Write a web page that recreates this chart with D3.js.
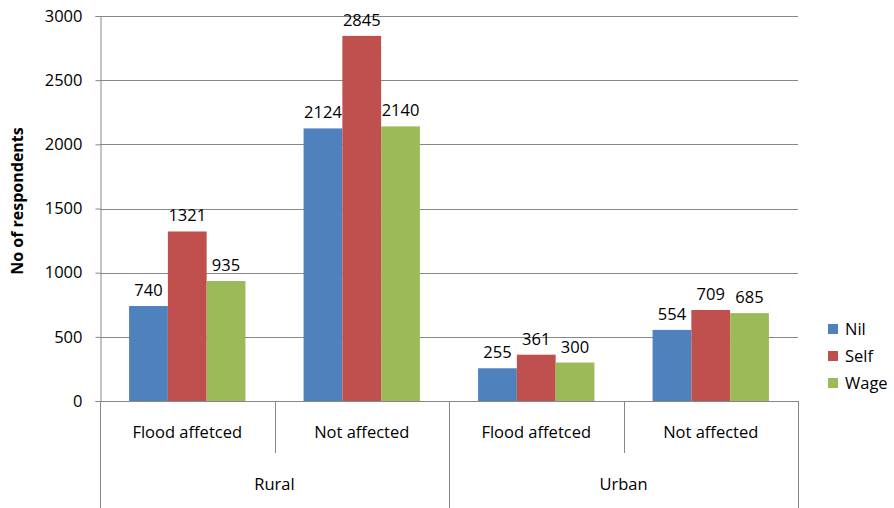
<!DOCTYPE html>
<html><head><meta charset="utf-8">
<script src="https://d3js.org/d3.v7.min.js"></script>
<style>body{margin:0;background:#fff}svg{display:block}text{font-family:"Open Sans",sans-serif;fill:#000}</style>
</head><body><svg id="c" width="894" height="508"></svg>
<script>
const groups = ["Rural","Rural","Urban","Urban"];
const categories = ["Flood affetced","Not affected","Flood affetced","Not affected"];
const series = ["Nil","Self","Wage"];
const nil = [740,2124,255,554];
const self = [1321,2845,361,709];
const wage = [935,2140,300,685];
const yTicks = [0,500,1000,1500,2000,2500,3000];
const colors = ["#4F81BD","#C0504D","#9BBB59"];
const values = [nil,self,wage];
const FS = 16.5;

const svg = d3.select("#c");
const L=100,R=798,T=16,B=401;
const y = d3.scaleLinear().domain([0,3000]).range([B,T]);
const x0 = d3.scaleBand().domain(d3.range(categories.length)).range([L,R]).paddingInner(0).paddingOuter(0);
const bw = x0.bandwidth()/4.5;
const x1 = d3.scaleBand().domain(series).range([x0.bandwidth()*0.75/4.5, x0.bandwidth()*0.75/4.5+bw*3]);

// gridlines
svg.append("g").selectAll("line").data(yTicks.slice(1)).join("line")
 .attr("x1",L).attr("x2",R).attr("y1",d=>Math.round(y(d))+0.5).attr("y2",d=>Math.round(y(d))+0.5)
 .attr("stroke","#878787").attr("stroke-width",1);

// y axis
const ya = svg.append("g").attr("transform",`translate(${L+0.5},0)`)
 .call(d3.axisLeft(y).tickValues(yTicks).tickFormat(d3.format("d")).tickSize(5).tickPadding(13));
ya.select(".domain").attr("stroke","#878787");
ya.selectAll(".tick line").attr("stroke","#878787");
ya.selectAll(".tick text").attr("font-size",FS).attr("font-family","Open Sans").attr("fill","#000");

// bars
for(let s=0;s<3;s++){
  svg.append("g").selectAll("rect").data(values[s]).join("rect")
   .attr("x",(d,i)=>x0(i)+x1(series[s])).attr("width",x1.bandwidth())
   .attr("y",d=>y(d)).attr("height",d=>B-y(d)).attr("fill",colors[s]);
  svg.append("g").selectAll("text").data(values[s]).join("text")
   .attr("x",(d,i)=>x0(i)+x1(series[s])+x1.bandwidth()/2)
   .attr("y",d=>y(d)-10).attr("text-anchor","middle").attr("font-size",FS).text(d=>d);
}

// x axis line
svg.append("line").attr("x1",L).attr("x2",R).attr("y1",B+0.5).attr("y2",B+0.5).attr("stroke","#878787");
// separators
const xsep = d3.range(categories.length+1).map(i=> i<categories.length ? x0(i) : R);
svg.append("g").selectAll("line").data(xsep).join("line")
 .attr("x1",d=>Math.round(d)+0.5).attr("x2",d=>Math.round(d)+0.5)
 .attr("y1",B).attr("y2",(d,i)=> i%2===0 ? 508 : 453)
 .attr("stroke","#878787");
svg.append("g").selectAll("text").data(categories).join("text")
 .attr("x",(d,i)=>x0(i)+x0.bandwidth()/2).attr("y",438).attr("text-anchor","middle")
 .attr("font-size",FS).text(d=>d);
const grp = [{n:groups[0],a:0},{n:groups[2],a:2}];
svg.append("g").selectAll("text").data(grp).join("text")
 .attr("x",d=>x0(d.a)+x0.bandwidth()).attr("y",490).attr("text-anchor","middle")
 .attr("font-size",FS).text(d=>d.n);

// y title
svg.append("text").attr("transform","translate(23,201) rotate(-90)").attr("text-anchor","middle")
 .attr("font-size",16).attr("font-weight","bold").text("No of respondents");

// legend
const lg = svg.append("g").selectAll("g").data(series).join("g")
 .attr("transform",(d,i)=>`translate(828,${324+i*27})`);
lg.append("rect").attr("width",10).attr("height",10).attr("fill",(d,i)=>colors[i]);
lg.append("text").attr("x",17).attr("y",11).attr("font-size",FS).text(d=>d);
</script></body></html>
